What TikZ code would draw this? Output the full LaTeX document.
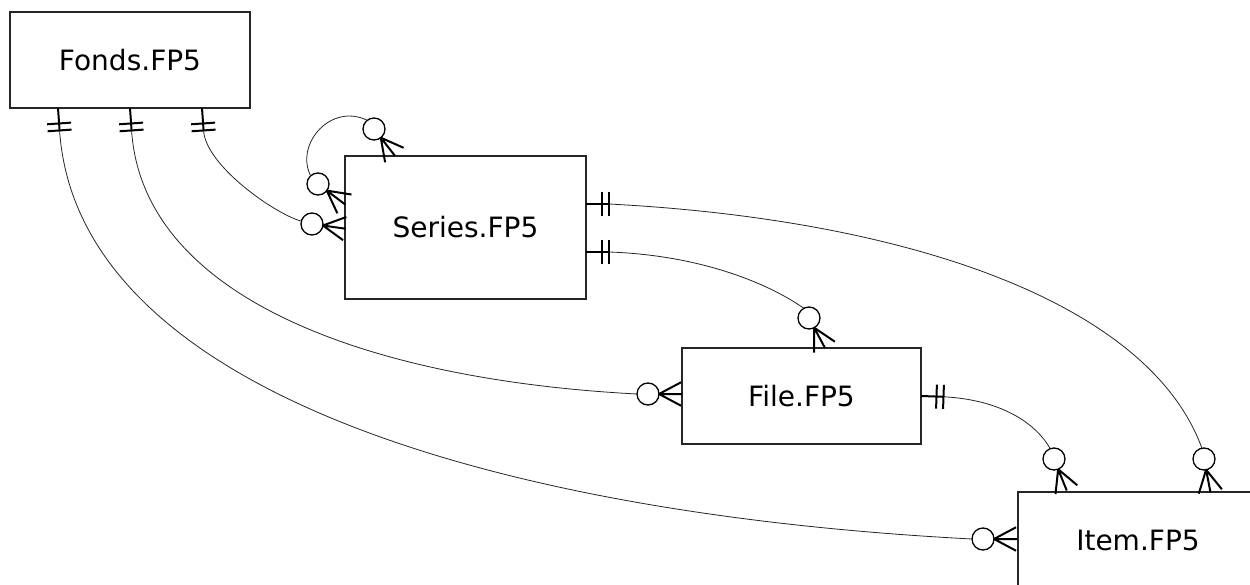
\documentclass[tikz,border=0pt]{standalone}
\usepackage{fontspec}
\setmainfont{DejaVu Sans}
\usetikzlibrary{calc}

\tikzset{
  entity/.style={draw=black!85, line width=1.2pt, minimum width=240pt, minimum height=96pt,
    inner sep=0pt, outer sep=0pt, font=\fontsize{28}{33}\selectfont},
  optcircle/.style={circle, draw, line width=1.3pt, minimum size=22pt, inner sep=0pt, outer sep=0pt},
  rel/.style={line width=0.8pt, black!85},
  prong/.style={line width=2pt}
}

% crow's foot (many) drawn from an optional circle towards the entity
\newcommand\crowfoot[2]{%
  \draw[prong] ($(#1)+(#2:11)$) -- +({#2-28}:25)
               ($(#1)+(#2:11)$) -- +(#2:23)
               ($(#1)+(#2:11)$) -- +({#2+28}:25);}

% mandatory-one mark: stub with two bars; #3 names the outer end of the stub
\newcommand\onemark[3]{%
  \draw[prong] (#1) -- ($(#1)+(#2:23)$) coordinate (#3);
  \draw[prong] ($(#1)+(#2:15.5)+({#2+90}:12)$) -- ($(#1)+(#2:15.5)+({#2-90}:12)$)
               ($(#1)+(#2:22.5)+({#2+90}:12)$) -- ($(#1)+(#2:22.5)+({#2-90}:12)$);}

\begin{document}
\begin{tikzpicture}[x=1pt,y=-1pt]
\clip (0,0) rectangle (1250,585);
\fill[white] (0,0) rectangle (1250,585);

% tables
\node[entity] (fonds) at (130,60) {Fonds.FP5};
\node[entity, minimum width=241pt, minimum height=143pt] (series) at (465.5,227.5) {Series.FP5};
\node[entity, minimum width=239pt] (file) at (801.5,396) {File.FP5};
\node[entity] (item) at (1138,540) {Item.FP5};

% optional-many ends
\node[optcircle] (oSeries)  at (312,224) {};
\node[optcircle] (oSelfLow) at (318,184) {};
\node[optcircle] (oSelfTop) at (374,129) {};
\node[optcircle] (oFile)    at (648,394) {};
\node[optcircle] (oItem)    at (983,539) {};
\node[optcircle] (oFileTop) at (809,318) {};
\node[optcircle] (oItemA)   at (1054,459) {};
\node[optcircle] (oItemB)   at (1204,459) {};

\crowfoot{oSeries}{8}
\crowfoot{oSelfLow}{37}
\crowfoot{oSelfTop}{52}
\crowfoot{oFile}{0}
\crowfoot{oItem}{0}
\crowfoot{oFileTop}{62}
\crowfoot{oItemA}{68}
\crowfoot{oItemB}{79}

% mandatory-one ends
\coordinate (fA) at ($(fonds.south west)+(48,0)$);
\coordinate (fB) at ($(fonds.south west)+(120,0)$);
\coordinate (fC) at ($(fonds.south west)+(192,0)$);
\coordinate (sA) at ($(series.north east)+(0,48)$);
\coordinate (sB) at ($(series.north east)+(0,96)$);
\coordinate (fR) at (file.east);

\onemark{fA}{86}{fAe}
\onemark{fB}{86}{fBe}
\onemark{fC}{86}{fCe}
\onemark{sA}{0}{sAe}
\onemark{sB}{0}{sBe}
\onemark{fR}{2}{fRe}

% entry points on the circles
\coordinate (inItem)     at ($(oItem)+(180:11)$);
\coordinate (inFile)     at ($(oFile)+(180:11)$);
\coordinate (inSeries)   at ($(oSeries)+(195:11)$);
\coordinate (outSelfTop) at ($(oSelfTop)+(232:11)$);
\coordinate (inSelfLow)  at ($(oSelfLow)+(228:11)$);
\coordinate (inItemB)    at ($(oItemB)+(259:11)$);
\coordinate (inFileTop)  at ($(oFileTop)+(242:11)$);
\coordinate (inItemA)    at ($(oItemA)+(250:11)$);

% relationships
\draw[rel] (fAe) .. controls ($(fAe)+(86:260)$) and ($(inItem)+(183:480)$) .. (inItem);
\draw[rel] (fBe) .. controls ($(fBe)+(86:168)$) and ($(inFile)+(183:268)$) .. (inFile);
\draw[rel] (fCe) .. controls ($(fCe)+(86:35)$) and ($(inSeries)+(195:27)$) .. (inSeries);
\draw[rel] (outSelfTop) .. controls ($(outSelfTop)+(206:41)$) and ($(inSelfLow)+(243:35)$) .. (inSelfLow);
\draw[rel] (sAe) .. controls ($(sAe)+(3:300)$) and ($(inItemB)+(250:155)$) .. (inItemB);
\draw[rel] (sBe) .. controls ($(sBe)+(2:90)$) and ($(inFileTop)+(215:45)$) .. (inFileTop);
\draw[rel] (fRe) .. controls ($(fRe)+(3:50)$) and ($(inItemA)+(240:35)$) .. (inItemA);
\end{tikzpicture}
\end{document}
